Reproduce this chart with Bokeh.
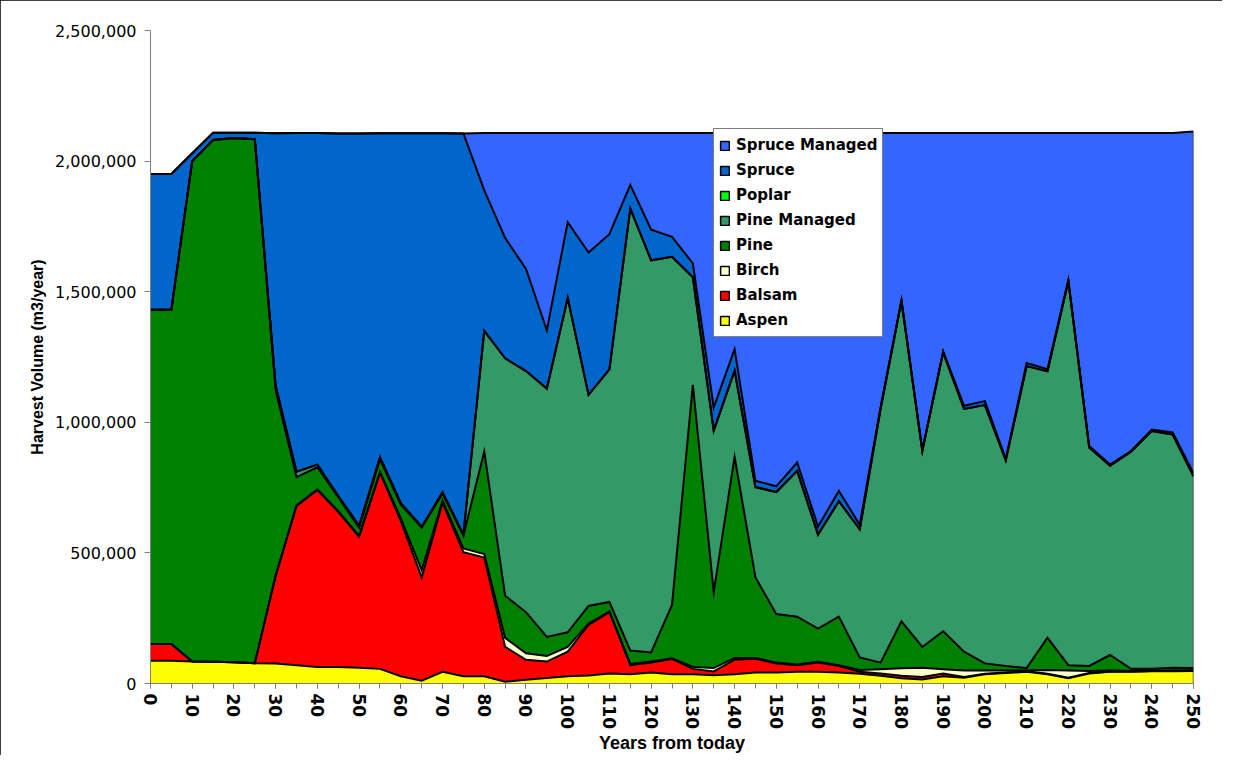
from bokeh.plotting import figure
from bokeh.models import (ColumnDataSource, Range1d, FixedTicker, NumeralTickFormatter,
                          Legend, LegendItem)
from bokeh.embed import file_html
from bokeh.resources import INLINE

years = list(range(0, 251, 5))

aspen = [87000, 87000, 84000, 83000, 81000, 78000, 77000, 70000, 63000, 63000,
         60000, 56000, 28000, 11000, 45000, 28000, 28000, 7000, 14000, 21000,
         28000, 31000, 38000, 35000, 42000, 35000, 35000, 32000, 35000, 42000,
         42000, 45000, 45000, 42000, 37000, 30000, 20000, 15000, 28000, 22000,
         35000, 40000, 45000, 35000, 20000, 38000, 45000, 45000, 47000, 47000, 48000]
balsam = [64000, 64000, 0, 0, 0, 0, 335000, 610000, 678000, 594000,
          502000, 751000, 594000, 395000, 647000, 475000, 454000, 133000, 77000, 63000,
          94000, 193000, 235000, 35000, 38000, 59000, 21000, 14000, 56000, 53000,
          35000, 25000, 35000, 25000, 8000, 8000, 10000, 10000, 10000, 3000,
          2000, 2000, 2000, 2000, 2000, 2000, 1000, 1000, 1000, 1000, 1000]
birch = [0, 0, 0, 0, 0, 0, 2000, 2000, 2000, 3000,
         3000, 3000, 10000, 28000, 8000, 14000, 14000, 35000, 25000, 21000,
         18000, 6000, 3000, 5000, 4000, 3000, 7000, 13000, 7000, 3000,
         3000, 3000, 3000, 3000, 7000, 17000, 28000, 35000, 17000, 25000,
         13000, 8000, 3000, 15000, 28000, 8000, 4000, 2000, 2000, 2000, 2000]
pine = [1280000, 1280000, 1916000, 1998000, 2007000, 2006000, 708000, 108000, 85000, 53000,
        31000, 48000, 53000, 163000, 27000, 49000, 392000, 161000, 157000, 73000,
        56000, 67000, 36000, 51000, 35000, 204000, 1080000, 291000, 769000, 308000,
        186000, 183000, 127000, 186000, 48000, 25000, 180000, 80000, 145000, 72000,
        27000, 17000, 9000, 123000, 20000, 19000, 59000, 8000, 6000, 10000, 8000]
pine_managed = [0, 0, 0, 0, 0, 0, 18000, 21000, 10000, 5000,
                8000, 8000, 5000, 3000, 5000, 4000, 462000, 909000, 923000, 951000,
                1280000, 808000, 891000, 1692000, 1501000, 1333000, 412000, 618000, 331000, 346000,
                467000, 558000, 360000, 442000, 490000, 972000, 1226000, 750000, 1068000, 929000,
                989000, 788000, 1156000, 1020000, 1470000, 837000, 725000, 831000, 911000, 893000, 734000]
poplar = [0] * 51
spruce = [520000, 520000, 30000, 28000, 21000, 25000, 967000, 1297000, 1270000, 1388000,
          1502000, 1241000, 1417000, 1507000, 1375000, 1536000, 538000, 461000, 391000, 223000,
          290000, 545000, 517000, 91000, 117000, 76000, 53000, 88000, 82000, 24000,
          22000, 32000, 31000, 39000, 18000, 6000, 4000, 4000, 4000, 12000,
          15000, 5000, 12000, 8000, 5000, 5000, 4000, 3000, 5000, 8000, 12000]
spruce_managed = [0, 0, 0, 0, 0, 0, 0, 0, 0, 0,
                  0, 0, 0, 0, 0, 0, 220000, 402000, 521000, 756000,
                  342000, 458000, 388000, 199000, 371000, 398000, 500000, 1052000, 828000, 1332000,
                  1353000, 1262000, 1507000, 1371000, 1500000, 1050000, 640000, 1214000, 836000, 1045000,
                  1027000, 1248000, 881000, 905000, 563000, 1199000, 1270000, 1218000, 1136000, 1147000, 1308000]

names = ["Aspen", "Balsam", "Birch", "Pine", "Pine Managed", "Poplar", "Spruce", "Spruce Managed"]
colors = ["#FFFF00", "#FF0000", "#FFFFCC", "#008000", "#339966", "#00FF00", "#0066CC", "#3366FF"]
x_ticks = list(range(0, 251, 10))
x_minor = list(range(0, 251, 5))
y_ticks = [0, 500000, 1000000, 1500000, 2000000, 2500000]

data = {"year": years, "Aspen": aspen, "Balsam": balsam, "Birch": birch,
        "Pine": pine, "Pine Managed": pine_managed, "Poplar": poplar,
        "Spruce": spruce, "Spruce Managed": spruce_managed}
src = ColumnDataSource(data=data)

p = figure(width=1222, height=755, output_backend="svg", toolbar_location=None,
           x_range=Range1d(0, 250), y_range=Range1d(0, 2500000),
           min_border_left=150, min_border_right=29, min_border_top=30, min_border_bottom=68)
p.outline_line_color = None
p.grid.visible = False
p.background_fill_color = "white"
p.border_fill_color = "white"
p.styles = {"outline": "1px solid black", "outline-offset": "-1px"}

p.varea_stack(stackers=names, x="year", color=colors, source=src)
p.vline_stack(stackers=names, x="year", color="black", line_width=2, line_join="miter", source=src)

# right-hand edge of the stacked areas at the last year
last_total = sum(data[n][-1] for n in names)
p.line(x=[years[-1], years[-1]], y=[0, last_total], line_color="#404040", line_width=1.5)

# legend with bordered swatches (invisible placeholder glyphs)
nan = float("nan")
items = []
for n, c in reversed(list(zip(names, colors))):
    r = p.quad(left=[nan], right=[nan], top=[nan], bottom=[nan],
               fill_color=c, line_color="black", line_width=1.5)
    items.append(LegendItem(label=n, renderers=[r]))
legend = Legend(items=items, location=(563, 346), margin=0, padding=5, spacing=3,
                glyph_width=11, glyph_height=11, label_height=22, label_standoff=6,
                label_text_font="DejaVu Sans", label_text_font_style="bold",
                label_text_font_size="15px", label_text_color="black",
                border_line_color="black", border_line_width=1,
                background_fill_color="white", background_fill_alpha=1.0)
p.add_layout(legend, "center")

# axes
ax = p.xaxis[0]
ax.ticker = FixedTicker(ticks=x_ticks, minor_ticks=x_minor)
ax.major_label_orientation = "vertical"
ax.major_label_text_font = "DejaVu Sans"
ax.major_label_text_font_style = "bold"
ax.major_label_text_font_size = "17px"
ax.major_label_text_color = "black"
ax.major_label_standoff = 5
ax.major_tick_out = 5
ax.major_tick_in = 0
ax.minor_tick_out = 5
ax.minor_tick_in = 0
ax.axis_line_color = "#808080"
ax.major_tick_line_color = "#808080"
ax.minor_tick_line_color = "#808080"
ax.axis_label = "Years from today"
ax.axis_label_text_font = "Liberation Sans"
ax.axis_label_text_font_style = "bold"
ax.axis_label_text_font_size = "18px"
ax.axis_label_text_color = "black"
ax.axis_label_standoff = 1

ay = p.yaxis[0]
ay.ticker = FixedTicker(ticks=y_ticks)
ay.formatter = NumeralTickFormatter(format="0,0")
ay.major_label_text_font = "DejaVu Sans"
ay.major_label_text_font_size = "16px"
ay.major_label_text_color = "black"
ay.major_label_standoff = 8
ay.major_tick_out = 6
ay.major_tick_in = 0
ay.minor_tick_line_color = None
ay.axis_line_color = "#808080"
ay.major_tick_line_color = "#808080"
ay.axis_label = "Harvest Volume (m3/year)"
ay.axis_label_text_font = "Liberation Sans"
ay.axis_label_text_font_style = "bold"
ay.axis_label_text_font_size = "16px"
ay.axis_label_text_color = "black"
ay.axis_label_standoff = 6

open("out.html", "w").write(file_html(p, INLINE))
